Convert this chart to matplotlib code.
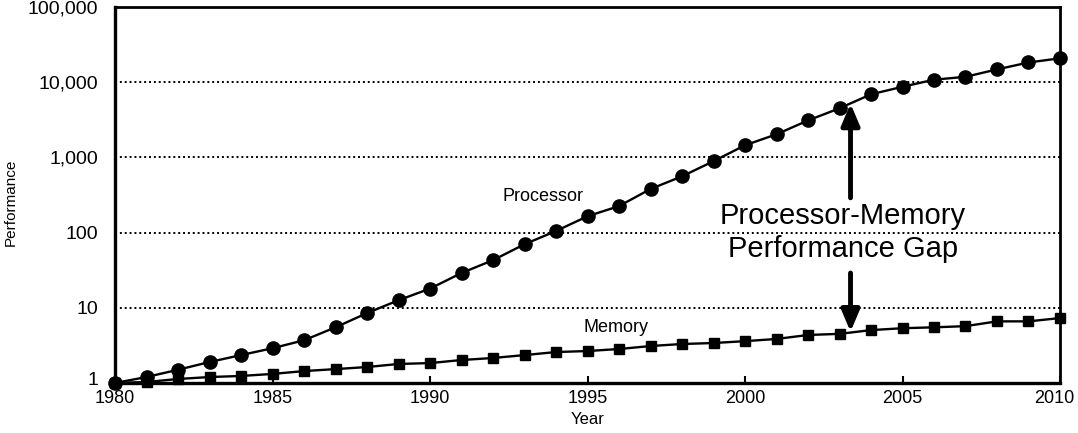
import numpy as np
import matplotlib
matplotlib.use("Agg")
import matplotlib.pyplot as plt
import matplotlib.transforms as mtransforms

plt.rcParams['font.family'] = ['Liberation Sans', 'DejaVu Sans']

# Performance relative to 1980
years = list(range(1980, 2011))
processor = [1, 1.2, 1.5, 1.9, 2.35, 2.9, 3.7, 5.5, 8.5, 12.6,
             18, 29, 43, 70, 105, 165, 225, 380, 560, 890,
             1450, 2030, 3100, 4500, 6900, 8700, 10800, 11800, 14800, 18300,
             20800]
memory = [1, 1.03, 1.13, 1.2, 1.24, 1.32, 1.44, 1.53, 1.63, 1.79,
          1.84, 2.02, 2.15, 2.35, 2.58, 2.66, 2.83, 3.1, 3.3, 3.4,
          3.6, 3.85, 4.35, 4.5, 5.05, 5.35, 5.5, 5.7, 6.6, 6.6,
          7.3]

ytick_vals = [1, 10, 100, 1000, 10000, 100000]
ytick_labels = ['1', '10', '100', '1,000', '10,000', '100,000']
xtick_vals = [1980, 1985, 1990, 1995, 2000, 2005, 2010]

fig = plt.figure(figsize=(10.78, 4.33), dpi=100)
ax = fig.add_axes([0.1067, 0.1155, 0.8766, 0.8683])

ax.set_yscale('log')
ax.set_ylim(1, 100000)
ax.set_xlim(1980, 2010)

# dotted grid lines
for g in [10, 100, 1000, 10000]:
    ax.axhline(g, color='black', linestyle=(0, (1, 1.5)), linewidth=1.4, zorder=1)

ax.plot(years, processor, '-o', color='black', markersize=9.5, linewidth=1.7,
        clip_on=False, zorder=3)
ax.plot(years, memory, '-s', color='black', markersize=6.5, linewidth=1.7,
        clip_on=False, zorder=3)

ax.set_yticks(ytick_vals)
ax.set_yticklabels(ytick_labels)
ax.yaxis.set_minor_locator(matplotlib.ticker.NullLocator())
ax.set_xticks(xtick_vals)
ax.tick_params(axis='both', direction='in', length=5, width=1.5)
ax.tick_params(axis='x', labelsize=13, pad=5)
ax.tick_params(axis='y', length=0, pad=12, labelsize=14)

# lift the "1" label a little so it clears "1980"
lbl1 = ax.get_yticklabels()[0]
lbl1.set_transform(lbl1.get_transform() +
                   mtransforms.ScaledTranslation(0, 4 / 100, fig.dpi_scale_trans))
# nudge "2010" left so it stays inside the figure
lbl_last = ax.get_xticklabels()[-1]
lbl_last.set_transform(lbl_last.get_transform() +
                       mtransforms.ScaledTranslation(-6 / 100, 0, fig.dpi_scale_trans))

for side in ['left', 'bottom']:
    ax.spines[side].set_linewidth(2.4)
for side in ['top', 'right']:
    ax.spines[side].set_linewidth(2.0)

ax.set_xlabel('Year', fontsize=12, labelpad=4)
ax.set_ylabel('Performance', fontsize=11)
ax.yaxis.set_label_coords(-0.103, 0.48)

ax.text(1993.6, 300, 'Processor', fontsize=13, ha='center', va='center')
ax.text(1995.9, 5.5, 'Memory', fontsize=13, ha='center', va='center')
ax.text(2003.1, 100, 'Processor-Memory\nPerformance Gap', fontsize=21,
        ha='center', va='center', linespacing=1.2)

# gap arrows
ax.annotate('', xy=(2003.35, 5200), xytext=(2003.35, 290),
            arrowprops=dict(arrowstyle='-|>,head_width=0.55,head_length=1.3',
                            color='black', lw=3.5, shrinkA=0, shrinkB=0))
ax.annotate('', xy=(2003.35, 4.8), xytext=(2003.35, 29),
            arrowprops=dict(arrowstyle='-|>,head_width=0.55,head_length=1.3',
                            color='black', lw=3.5, shrinkA=0, shrinkB=0))

fig.savefig('out.png', dpi=100)
